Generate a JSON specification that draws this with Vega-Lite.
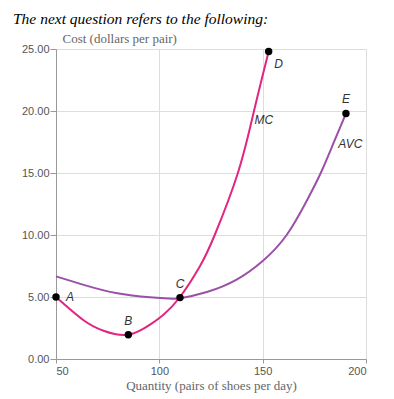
{
  "$schema": "https://vega.github.io/schema/vega-lite/v6.json",
  "width": 310,
  "height": 310,
  "autosize": "none",
  "padding": {"left": 56, "top": 49, "right": 28, "bottom": 40},
  "background": "white",
  "title": {
    "text": "The next question refers to the following:",
    "anchor": "start",
    "frame": "group",
    "font": "Liberation Serif",
    "fontStyle": "italic",
    "fontWeight": "normal",
    "fontSize": 15.5,
    "color": "#000000",
    "dx": -43,
    "offset": 5
  },
  "config": {
    "view": {"stroke": null},
    "axis": {
      "labelFont": "Liberation Sans",
      "labelFontSize": 11,
      "labelColor": "#555555",
      "titleFont": "Liberation Serif",
      "titleFontWeight": "normal",
      "titleFontSize": 13,
      "titleColor": "#666666",
      "gridColor": "#dddddd",
      "domainColor": "#999999",
      "tickColor": "#999999"
    }
  },
  "datasets": {
    "curves": [
      {"series": "MC", "q": 50, "c": 5},
      {"series": "MC", "q": 63, "c": 3.17},
      {"series": "MC", "q": 73, "c": 2.28},
      {"series": "MC", "q": 85, "c": 1.96},
      {"series": "MC", "q": 95.5, "c": 2.77},
      {"series": "MC", "q": 102, "c": 3.57},
      {"series": "MC", "q": 110, "c": 5},
      {"series": "MC", "q": 119.7, "c": 7.5},
      {"series": "MC", "q": 126.8, "c": 10},
      {"series": "MC", "q": 138, "c": 15},
      {"series": "MC", "q": 145.8, "c": 20},
      {"series": "MC", "q": 152.9, "c": 24.8},
      {"series": "AVC", "q": 50, "c": 6.66},
      {"series": "AVC", "q": 63, "c": 6.0},
      {"series": "AVC", "q": 79, "c": 5.32},
      {"series": "AVC", "q": 95.5, "c": 4.97},
      {"series": "AVC", "q": 105, "c": 4.88},
      {"series": "AVC", "q": 110, "c": 4.9},
      {"series": "AVC", "q": 123, "c": 5.4},
      {"series": "AVC", "q": 137.4, "c": 6.4},
      {"series": "AVC", "q": 150, "c": 7.9},
      {"series": "AVC", "q": 161.6, "c": 10},
      {"series": "AVC", "q": 171.6, "c": 12.85},
      {"series": "AVC", "q": 178.1, "c": 15},
      {"series": "AVC", "q": 184, "c": 17.3},
      {"series": "AVC", "q": 190.3, "c": 19.8}
    ],
    "points": [
      {"label": "A", "q": 50, "c": 5},
      {"label": "B", "q": 85, "c": 1.96},
      {"label": "C", "q": 110, "c": 4.95},
      {"label": "D", "q": 152.9, "c": 24.8},
      {"label": "E", "q": 190.3, "c": 19.8}
    ],
    "curveLabels": [
      {"label": "MC", "q": 146, "c": 19.3},
      {"label": "AVC", "q": 186.6, "c": 17.34}
    ]
  },
  "layer": [
    {
      "data": {"name": "curves"},
      "mark": {"type": "line", "interpolate": "natural", "strokeWidth": 2, "clip": false},
      "encoding": {
        "x": {
          "field": "q", "type": "quantitative",
          "scale": {"domain": [50, 200], "nice": false, "zero": false},
          "axis": {
            "values": [50, 100, 150, 200],
            "title": "Quantity (pairs of shoes per day)",
            "titleY": 30,
            "titleBaseline": "alphabetic",
            "tickSize": 4,
            "labelPadding": 2
          }
        },
        "y": {
          "field": "c", "type": "quantitative",
          "scale": {"domain": [0, 25], "nice": false},
          "axis": {
            "values": [0, 5, 10, 15, 20, 25],
            "format": ".2f",
            "title": "Cost (dollars per pair)",
            "titleAngle": 0,
            "titleX": 6,
            "titleY": -7,
            "titleAlign": "left",
            "titleBaseline": "alphabetic",
            "tickSize": 6,
            "labelPadding": 1
          }
        },
        "color": {
          "field": "series", "type": "nominal",
          "scale": {"domain": ["MC", "AVC"], "range": ["#e0267f", "#9b50a8"]},
          "legend": null
        },
        "detail": {"field": "series"}
      }
    },
    {
      "data": {"name": "points"},
      "mark": {"type": "circle", "size": 55, "color": "#000000", "opacity": 1, "clip": false},
      "encoding": {
        "x": {"field": "q", "type": "quantitative"},
        "y": {"field": "c", "type": "quantitative"}
      }
    },
    {
      "data": {"name": "points"},
      "transform": [{"filter": "datum.label === 'A'"}],
      "mark": {"type": "text", "font": "Liberation Sans", "fontStyle": "italic", "fontSize": 12, "color": "#333333", "align": "left", "baseline": "middle", "dx": 10},
      "encoding": {
        "x": {"field": "q", "type": "quantitative"},
        "y": {"field": "c", "type": "quantitative"},
        "text": {"field": "label"}
      }
    },
    {
      "data": {"name": "points"},
      "transform": [{"filter": "datum.label === 'B' || datum.label === 'C' || datum.label === 'E'"}],
      "mark": {"type": "text", "font": "Liberation Sans", "fontStyle": "italic", "fontSize": 12, "color": "#333333", "align": "center", "baseline": "middle", "dy": -14},
      "encoding": {
        "x": {"field": "q", "type": "quantitative"},
        "y": {"field": "c", "type": "quantitative"},
        "text": {"field": "label"}
      }
    },
    {
      "data": {"name": "points"},
      "transform": [{"filter": "datum.label === 'D'"}],
      "mark": {"type": "text", "font": "Liberation Sans", "fontStyle": "italic", "fontSize": 12, "color": "#333333", "align": "center", "baseline": "middle", "dx": 10, "dy": 13},
      "encoding": {
        "x": {"field": "q", "type": "quantitative"},
        "y": {"field": "c", "type": "quantitative"},
        "text": {"field": "label"}
      }
    },
    {
      "data": {"name": "curveLabels"},
      "mark": {"type": "text", "font": "Liberation Sans", "fontStyle": "italic", "fontSize": 12, "color": "#333333", "align": "left", "baseline": "middle"},
      "encoding": {
        "x": {"field": "q", "type": "quantitative"},
        "y": {"field": "c", "type": "quantitative"},
        "text": {"field": "label"}
      }
    }
  ]
}
